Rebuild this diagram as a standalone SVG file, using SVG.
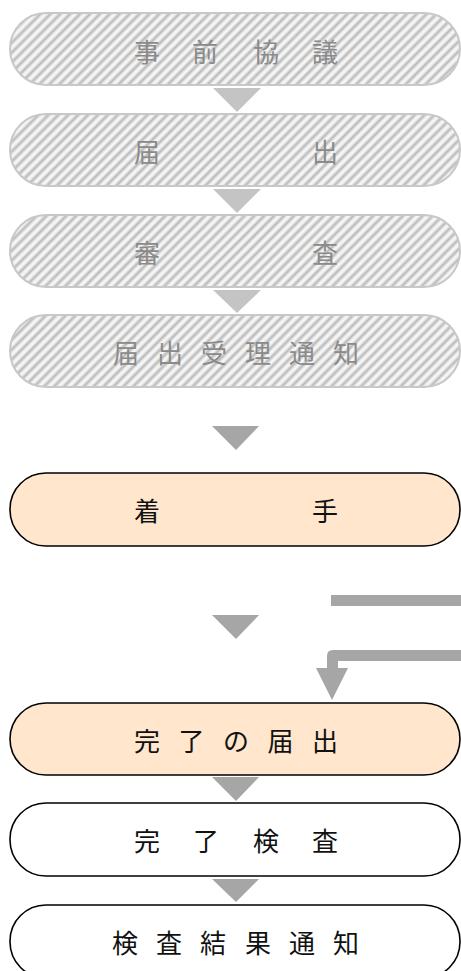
<svg xmlns="http://www.w3.org/2000/svg" width="461" height="971" viewBox="0 0 461 971">
<defs>
<linearGradient id="stripe" x1="0" y1="0" x2="1" y2="0">
<stop offset="0" stop-color="#ffffff"/>
<stop offset="0.25" stop-color="#e2e2e2"/>
<stop offset="0.5" stop-color="#b8b8b8"/>
<stop offset="0.75" stop-color="#e2e2e2"/>
<stop offset="1" stop-color="#ffffff"/>
</linearGradient>
<pattern id="hatch" patternUnits="userSpaceOnUse" width="7" height="7" patternTransform="rotate(45)">
<rect width="7" height="7" fill="url(#stripe)"/>
</pattern>
</defs>
<style>
.hatched{fill:url(#hatch);stroke:#c8c8c8;stroke-width:2}
.orange{fill:#ffe6cc;stroke:#000;stroke-width:1.6}
.plain{fill:#fff;stroke:#000;stroke-width:1.6}
.lbl{font-family:"Noto Sans CJK JP","Noto Sans CJK SC",sans-serif;font-size:26px;text-anchor:middle}
.gray{fill:#8a8a8a}
.dark{fill:#111}
.tri-light{fill:#c4c4c4}
.tri{fill:#a6a6a6}
</style>
<g id="connectors">
<polygon class="tri-light" points="213,88 261,88 237,112"/>
<polygon class="tri-light" points="213,189 261,189 237,213"/>
<polygon class="tri-light" points="213,290 261,290 237,313"/>
<polygon class="tri" points="212,426 259,426 236,450"/>
<polygon class="tri" points="212,615 259,615 236,639"/>
<rect class="tri" x="331" y="595" width="130" height="11"/>
<path class="tri" d="M461,650 L333,650 Q327,650 327,656 L327,669 L338,669 L338,661 L461,661 Z"/>
<polygon class="tri" points="316,668 348,668 332,700"/>
<polygon class="tri" points="212,777 259,777 236,801"/>
<polygon class="tri" points="212,879 259,879 236,902"/>
</g>
<g id="n1">
<rect class="hatched" x="10" y="13" width="450" height="72" rx="36"/>
<text class="lbl gray" x="147 205 266 325" y="62">事前協議</text>
</g>
<g id="n2">
<rect class="hatched" x="10" y="114" width="450" height="72" rx="36"/>
<text class="lbl gray" x="147 325" y="162">届出</text>
</g>
<g id="n3">
<rect class="hatched" x="10" y="215" width="450" height="72" rx="36"/>
<text class="lbl gray" x="147 325" y="263">審査</text>
</g>
<g id="n4">
<rect class="hatched" x="10" y="315" width="450" height="72" rx="36"/>
<text class="lbl gray" x="126 170 214 258 302 346" y="363">届出受理通知</text>
</g>
<g id="n5">
<rect class="orange" x="10" y="473" width="450" height="73" rx="36"/>
<text class="lbl dark" x="147 325" y="521">着手</text>
</g>
<g id="n6">
<rect class="orange" x="10" y="703" width="450" height="72" rx="36"/>
<text class="lbl dark" x="147 191.5 236 280.5 325" y="751">完了の届出</text>
</g>
<g id="n7">
<rect class="plain" x="10" y="803" width="450" height="73" rx="36"/>
<text class="lbl dark" x="147 206 266 325" y="851">完了検査</text>
</g>
<g id="n8">
<rect class="plain" x="10" y="905" width="450" height="73" rx="36"/>
<text class="lbl dark" x="125 169 213 258 302 346" y="953">検査結果通知</text>
</g>
</svg>
